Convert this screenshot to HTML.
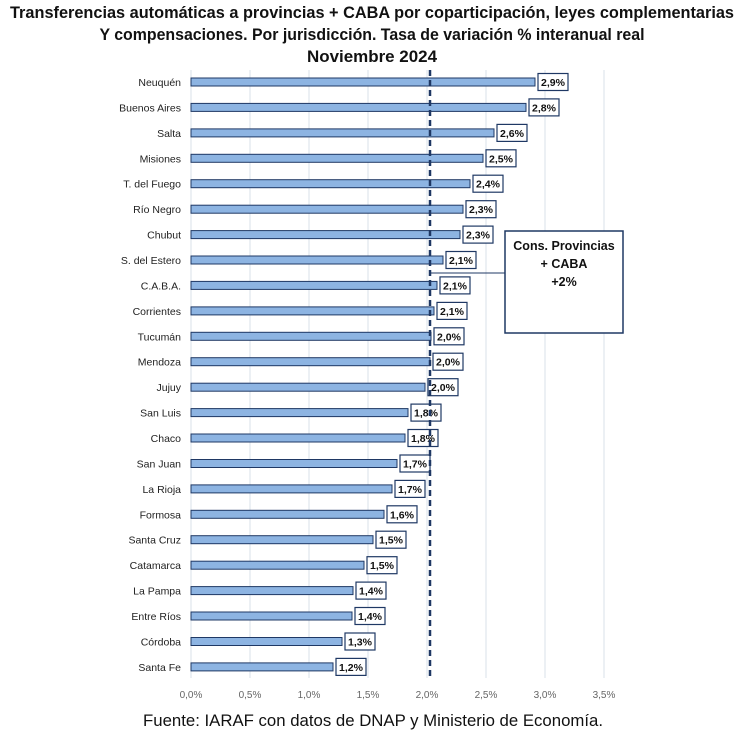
<!DOCTYPE html>
<html><head><meta charset="utf-8"><style>
html,body{margin:0;padding:0;background:#fff;}
svg{display:block;font-family:"Liberation Sans",sans-serif;}
.lab{font-size:10.5px;fill:#222;text-anchor:end;}
.v{font-size:10.5px;font-weight:bold;fill:#111;text-anchor:middle;}
.t{font-size:10px;fill:#666;text-anchor:middle;}
.bar{fill:#8db4e2;stroke:#1f3864;stroke-width:1;}
.box{fill:#fff;stroke:#1f3864;stroke-width:1.2;}
</style></head><body>
<svg width="745" height="740" viewBox="0 0 745 740" xmlns="http://www.w3.org/2000/svg">
<g font-weight="bold" font-size="17" text-anchor="middle" fill="#111">
<text x="372" y="18" textLength="724" lengthAdjust="spacingAndGlyphs">Transferencias automáticas a provincias + CABA por coparticipación, leyes complementarias</text>
<text x="372" y="40" textLength="545" lengthAdjust="spacingAndGlyphs">Y compensaciones. Por jurisdicción. Tasa de variación % interanual real</text>
<text x="372" y="62" textLength="130" lengthAdjust="spacingAndGlyphs">Noviembre 2024</text>
</g>
<g stroke="#d9e1ea" stroke-width="1">
<line x1="191" y1="70" x2="191" y2="678"/><line x1="250" y1="70" x2="250" y2="678"/>
<line x1="309" y1="70" x2="309" y2="678"/><line x1="368" y1="70" x2="368" y2="678"/>
<line x1="427" y1="70" x2="427" y2="678"/><line x1="486" y1="70" x2="486" y2="678"/>
<line x1="545" y1="70" x2="545" y2="678"/><line x1="604" y1="70" x2="604" y2="678"/>
</g>
<g class="t">
<text x="191" y="698">0,0%</text><text x="250" y="698">0,5%</text><text x="309" y="698">1,0%</text>
<text x="368" y="698">1,5%</text><text x="427" y="698">2,0%</text><text x="486" y="698">2,5%</text>
<text x="545" y="698">3,0%</text><text x="604" y="698">3,5%</text>
</g>
<g>
<text class="lab" x="181" y="86">Neuquén</text><rect class="bar" x="191" y="78" width="344" height="8"/><rect class="box" x="538" y="73.5" width="30" height="17"/><text class="v" x="553" y="86">2,9%</text>
<text class="lab" x="181" y="111.4">Buenos Aires</text><rect class="bar" x="191" y="103.4" width="335" height="8"/><rect class="box" x="529" y="98.9" width="30" height="17"/><text class="v" x="544" y="111.4">2,8%</text>
<text class="lab" x="181" y="136.9">Salta</text><rect class="bar" x="191" y="128.9" width="303" height="8"/><rect class="box" x="497" y="124.4" width="30" height="17"/><text class="v" x="512" y="136.9">2,6%</text>
<text class="lab" x="181" y="162.3">Misiones</text><rect class="bar" x="191" y="154.3" width="292" height="8"/><rect class="box" x="486" y="149.8" width="30" height="17"/><text class="v" x="501" y="162.3">2,5%</text>
<text class="lab" x="181" y="187.7">T. del Fuego</text><rect class="bar" x="191" y="179.7" width="279" height="8"/><rect class="box" x="473" y="175.2" width="30" height="17"/><text class="v" x="488" y="187.7">2,4%</text>
<text class="lab" x="181" y="213.2">Río Negro</text><rect class="bar" x="191" y="205.2" width="272" height="8"/><rect class="box" x="466" y="200.7" width="30" height="17"/><text class="v" x="481" y="213.2">2,3%</text>
<text class="lab" x="181" y="238.6">Chubut</text><rect class="bar" x="191" y="230.6" width="269" height="8"/><rect class="box" x="463" y="226.1" width="30" height="17"/><text class="v" x="478" y="238.6">2,3%</text>
<text class="lab" x="181" y="264">S. del Estero</text><rect class="bar" x="191" y="256" width="252" height="8"/><rect class="box" x="446" y="251.5" width="30" height="17"/><text class="v" x="461" y="264">2,1%</text>
<text class="lab" x="181" y="289.4">C.A.B.A.</text><rect class="bar" x="191" y="281.4" width="246" height="8"/><rect class="box" x="440" y="276.9" width="30" height="17"/><text class="v" x="455" y="289.4">2,1%</text>
<text class="lab" x="181" y="314.9">Corrientes</text><rect class="bar" x="191" y="306.9" width="243" height="8"/><rect class="box" x="437" y="302.4" width="30" height="17"/><text class="v" x="452" y="314.9">2,1%</text>
<text class="lab" x="181" y="340.3">Tucumán</text><rect class="bar" x="191" y="332.3" width="240" height="8"/><rect class="box" x="434" y="327.8" width="30" height="17"/><text class="v" x="449" y="340.3">2,0%</text>
<text class="lab" x="181" y="365.7">Mendoza</text><rect class="bar" x="191" y="357.7" width="239" height="8"/><rect class="box" x="433" y="353.2" width="30" height="17"/><text class="v" x="448" y="365.7">2,0%</text>
<text class="lab" x="181" y="391.2">Jujuy</text><rect class="bar" x="191" y="383.2" width="234" height="8"/><rect class="box" x="428" y="378.7" width="30" height="17"/><text class="v" x="443" y="391.2">2,0%</text>
<text class="lab" x="181" y="416.6">San Luis</text><rect class="bar" x="191" y="408.6" width="217" height="8"/><rect class="box" x="411" y="404.1" width="30" height="17"/><text class="v" x="426" y="416.6">1,8%</text>
<text class="lab" x="181" y="442">Chaco</text><rect class="bar" x="191" y="434" width="214" height="8"/><rect class="box" x="408" y="429.5" width="30" height="17"/><text class="v" x="423" y="442">1,8%</text>
<text class="lab" x="181" y="467.5">San Juan</text><rect class="bar" x="191" y="459.5" width="206" height="8"/><rect class="box" x="400" y="455" width="30" height="17"/><text class="v" x="415" y="467.5">1,7%</text>
<text class="lab" x="181" y="492.9">La Rioja</text><rect class="bar" x="191" y="484.9" width="201" height="8"/><rect class="box" x="395" y="480.4" width="30" height="17"/><text class="v" x="410" y="492.9">1,7%</text>
<text class="lab" x="181" y="518.3">Formosa</text><rect class="bar" x="191" y="510.3" width="193" height="8"/><rect class="box" x="387" y="505.8" width="30" height="17"/><text class="v" x="402" y="518.3">1,6%</text>
<text class="lab" x="181" y="543.7">Santa Cruz</text><rect class="bar" x="191" y="535.7" width="182" height="8"/><rect class="box" x="376" y="531.2" width="30" height="17"/><text class="v" x="391" y="543.7">1,5%</text>
<text class="lab" x="181" y="569.2">Catamarca</text><rect class="bar" x="191" y="561.2" width="173" height="8"/><rect class="box" x="367" y="556.7" width="30" height="17"/><text class="v" x="382" y="569.2">1,5%</text>
<text class="lab" x="181" y="594.6">La Pampa</text><rect class="bar" x="191" y="586.6" width="162" height="8"/><rect class="box" x="356" y="582.1" width="30" height="17"/><text class="v" x="371" y="594.6">1,4%</text>
<text class="lab" x="181" y="620">Entre Ríos</text><rect class="bar" x="191" y="612" width="161" height="8"/><rect class="box" x="355" y="607.5" width="30" height="17"/><text class="v" x="370" y="620">1,4%</text>
<text class="lab" x="181" y="645.5">Córdoba</text><rect class="bar" x="191" y="637.5" width="151" height="8"/><rect class="box" x="345" y="633" width="30" height="17"/><text class="v" x="360" y="645.5">1,3%</text>
<text class="lab" x="181" y="670.9">Santa Fe</text><rect class="bar" x="191" y="662.9" width="142" height="8"/><rect class="box" x="336" y="658.4" width="30" height="17"/><text class="v" x="351" y="670.9">1,2%</text>
</g>
<line x1="430" y1="273" x2="505" y2="273" stroke="#1f3864" stroke-width="1"/>
<line x1="430" y1="70" x2="430" y2="680" stroke="#1f3864" stroke-width="2.5" stroke-dasharray="6,4"/>
<rect x="505" y="231" width="118" height="102" fill="#fff" stroke="#1f3864" stroke-width="1.5"/>
<g font-weight="bold" font-size="12.5" text-anchor="middle" fill="#111">
<text x="564" y="250">Cons. Provincias</text>
<text x="564" y="268">+ CABA</text>
<text x="564" y="286">+2%</text>
</g>
<text x="373" y="726" font-size="17" text-anchor="middle" fill="#111" textLength="460" lengthAdjust="spacingAndGlyphs">Fuente: IARAF con datos de DNAP y Ministerio de Economía.</text>
</svg>
</body></html>
